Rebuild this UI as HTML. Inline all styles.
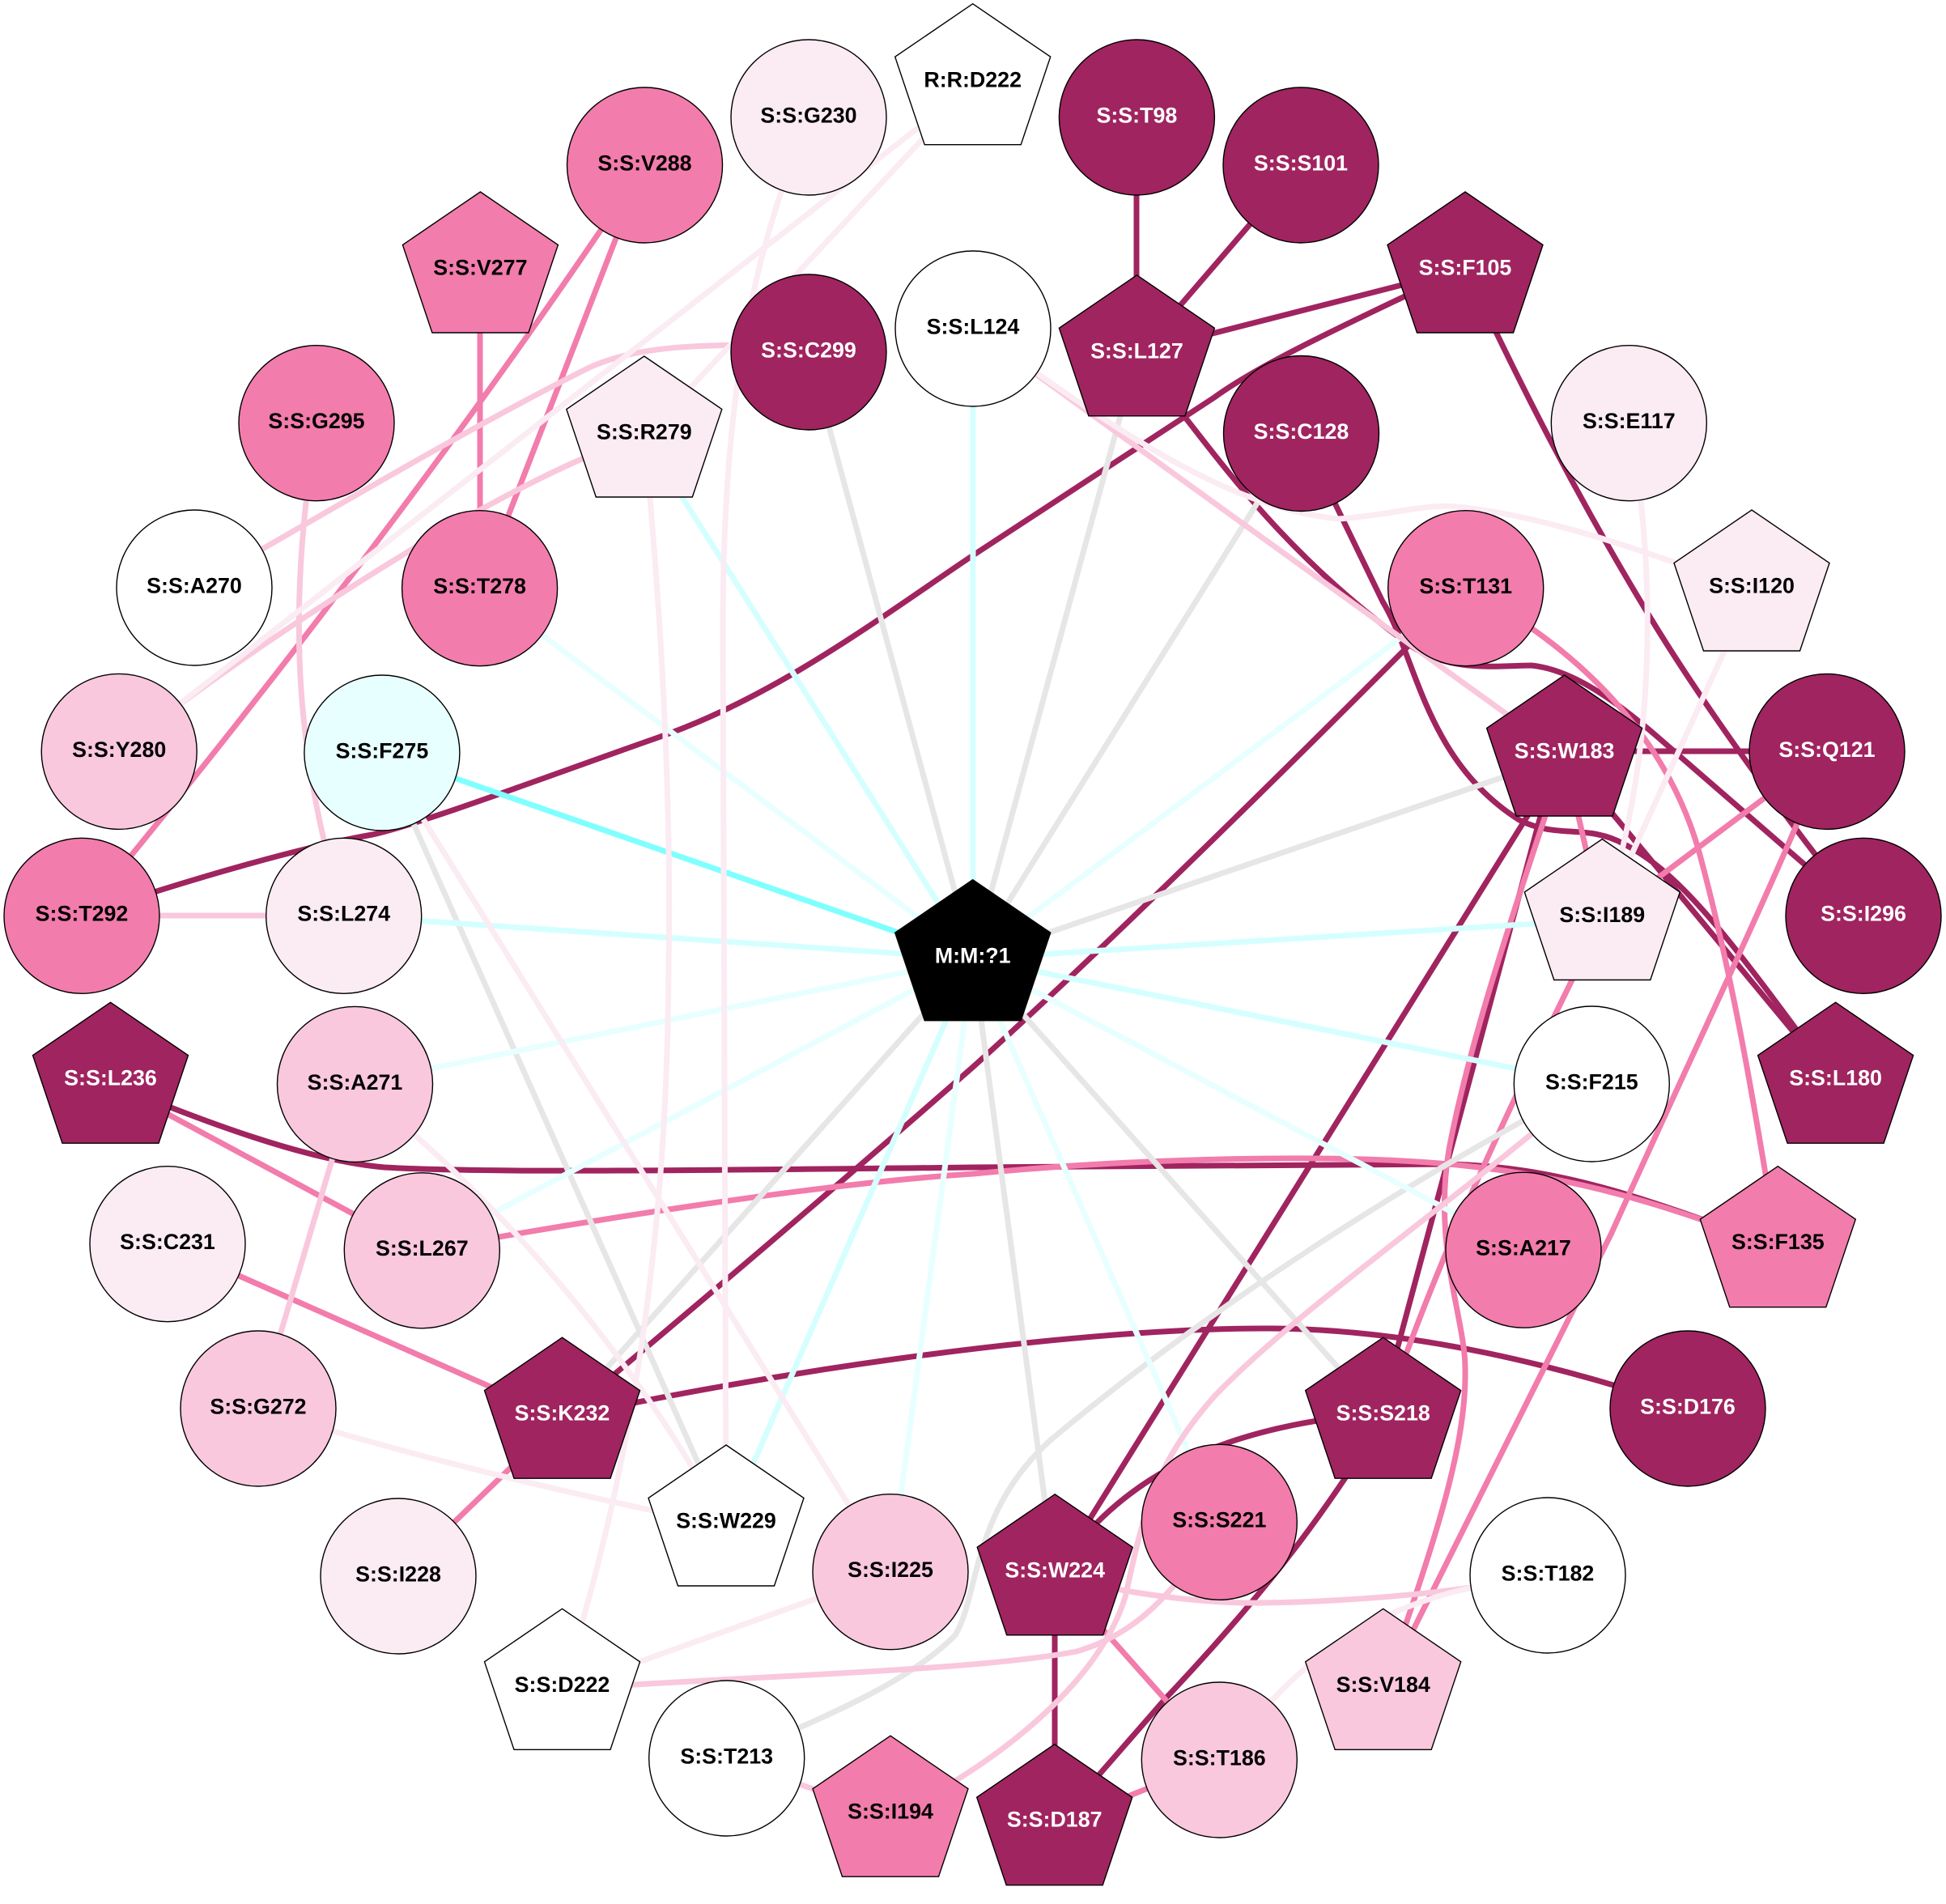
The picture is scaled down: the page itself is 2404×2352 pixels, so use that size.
<!DOCTYPE html>
<html><head><meta charset="utf-8"><style>
html,body{margin:0;padding:0;background:#fff}
svg{display:block}
text{font-family:"Liberation Sans",sans-serif;font-weight:bold;font-size:26.8px;text-anchor:middle}
.e path{fill:none;stroke-width:7}
.d *{stroke:#a0245f}.p *{stroke:#f27cac}.l *{stroke:#f9c8dd}.f *{stroke:#fbebf3}
.g *{stroke:#e6e6e6}.c0 *{stroke:#80ffff}.c1 *{stroke:#d5ffff}.c2 *{stroke:#e8ffff}
.n circle,.n use{stroke:#000;stroke-width:1.4}
.w{fill:#fff}
</style></head><body>
<svg width="2404" height="2352" viewBox="0 0 2404 2352" xmlns="http://www.w3.org/2000/svg">
<defs><polygon id="pg" points="0,0 96,65.5 59.5,174 -59.5,174 -96,65.5"/></defs>
<rect width="2404" height="2352" fill="#fff"/>
<g class="e d">
<path d="M1404,145V440"/>
<path d="M1607,204L1404,440"/>
<path d="M1404,436L1810,332"/>
<path d="M1810,330C1720,375 1570,440 1500,491L1202,686C1090,761 960,860 813,911C690,954 520,1018 460,1031C380,1045 250,1081 101,1131"/>
<path d="M1404,450L1466,518C1520,587 1600,695 1739,795C1790,832 1850,822 1892,822C1940,827 1990,861 2045,908L2302,1131"/>
<path d="M1607,535L1708,743C1750,812 1760,939 1877,1013C1925,1037 1960,1017 2007,1043C2080,1081 2140,1164 2268,1338"/>
<path d="M1933,934L2268,1338"/>
<path d="M1933,928H2257"/>
<path d="M1810,330C1880,480 1950,617 2040,765C2110,880 2220,1030 2302,1131"/>
<path d="M1810,727C1600,940 1350,1185 1202,1318C1080,1425 900,1580 694,1752"/>
<path d="M1933,934L1303,1946"/>
<path d="M1923,934L1703,1752"/>
<path d="M136,1338C250,1385 380,1434 475,1442C560,1447 700,1448 1202,1442L1792,1438C1920,1442 2020,1474 2196,1541"/>
<path d="M694,1752C900,1705 1300,1640 1570,1641C1750,1642 1930,1688 2085,1740"/>
<path d="M1709,1745C1560,1758 1400,1795 1303,1946"/>
<path d="M1709,1752C1640,1865 1570,1960 1440,2098L1303,2255"/>
<path d="M1303,1946V2255"/>
</g>
<g class="e p">
<path d="M1933,934C1900,1040 1820,1260 1790,1420C1770,1540 1810,1630 1810,1690C1812,1790 1770,1910 1709,2087"/>
<path d="M1811,727C1950,800 2060,910 2100,1056C2140,1205 2165,1350 2196,1541"/>
<path d="M2257,928C2190,1097 2100,1280 1990,1525L1709,2087"/>
<path d="M2257,928L1979,1136"/>
<path d="M1933,934L1979,1136"/>
<path d="M521,1545C700,1512 1000,1463 1202,1450C1400,1431 1650,1424 1800,1439C1950,1454 2060,1489 2196,1541"/>
<path d="M136,1338L521,1545"/>
<path d="M207,1537L694,1752"/>
<path d="M694,1752L492,1947"/>
<path d="M1303,1946L1506,2174"/>
<path d="M1303,2255L1506,2174"/>
<path d="M593,337V727"/>
<path d="M796,204L593,727"/>
<path d="M796,204C640,440 400,770 101,1131"/>
<path d="M1979,1136C1880,1335 1780,1540 1709,1752"/>
</g>
<g class="e g">
<path d="M999,435L1202,1184"/>
<path d="M1404,440L1202,1184"/>
<path d="M1607,535L1202,1184"/>
<path d="M1933,934L1202,1184"/>
<path d="M694,1752L1202,1184"/>
<path d="M1303,1946L1202,1184"/>
<path d="M1709,1752L1202,1184"/>
<path d="M472,930L897,1885"/>
<path d="M1966,1339C1750,1452 1500,1610 1300,1777C1200,1865 1210,1970 1180,2020C1130,2070 1050,2110 898,2172"/>
</g>
<g class="e c2">
<path d="M593,727L1202,1184"/>
<path d="M1811,727L1202,1184"/>
<path d="M438,1339L1202,1184"/>
<path d="M521,1545L1202,1184"/>
<path d="M1882,1544L1202,1184"/>
<path d="M1100,1942L1202,1184"/>
<path d="M1506,1880L1202,1184"/>
</g>
<g class="e c1">
<path d="M1202,406V1184"/>
<path d="M796,540L1202,1184"/>
<path d="M425,1131L1202,1184"/>
<path d="M1979,1136L1202,1184"/>
<path d="M1966,1339L1202,1184"/>
<path d="M897,1885L1202,1184"/>
</g>
<g class="e c0"><path d="M472,930L1202,1184"/></g>
<g class="e l">
<path d="M101,1131H425"/>
<path d="M391,523C360,724 355,900 425,1131"/>
<path d="M240,726C350,665 560,538 728,454C800,421 900,427 999,426"/>
<path d="M147,928L222,870C340,783 560,636 721,566L796,538"/>
<path d="M1202,406L1933,934"/>
<path d="M438,1339L319,1740"/>
<path d="M694,2087C900,2071 1200,2065 1330,2040C1400,2020 1450,1972 1506,1880"/>
<path d="M1303,1946C1400,1972 1500,1981 1560,1980C1680,1978 1800,1967 1912,1946"/>
<path d="M1966,1339C1800,1482 1600,1620 1500,1725C1420,1815 1410,1885 1390,1973C1360,2070 1250,2170 1100,2244"/>
<path d="M898,2172L1100,2244"/>
</g>
<g class="e f">
<path d="M1202,105L147,928"/>
<path d="M1202,105L796,540"/>
<path d="M999,145C940,293 893,450 893,780L897,1885"/>
<path d="M796,540C815,733 830,980 826,1190C825,1490 790,1790 694,2087"/>
<path d="M2012,523C2045,685 2050,930 1979,1136"/>
<path d="M2164,730L1979,1136"/>
<path d="M1202,406C1350,508 1500,626 1654,641C1720,636 1760,622 1800,626C1900,636 2020,675 2164,730"/>
<path d="M438,1339C620,1485 780,1670 897,1885"/>
<path d="M472,930L1100,1942"/>
<path d="M319,1740C500,1797 700,1845 897,1885"/>
<path d="M1100,1942L694,2087"/>
<path d="M1506,2174C1590,2080 1660,1972 1912,1946"/>
</g>
<g class="n">
<circle cx="999" cy="145" r="96" fill="#fbebf3"/><text x="999" y="151.4">S:S:G230</text>
<circle cx="796.5" cy="204" r="96" fill="#f27cac"/><text x="796.5" y="210.4">S:S:V288</text>
<circle cx="999" cy="435" r="96" fill="#a0245f"/><text class="w" x="999" y="441.4">S:S:C299</text>
<circle cx="1202" cy="406" r="96" fill="#fff"/><text x="1202" y="412.4">S:S:L124</text>
<circle cx="1404.4" cy="145" r="96" fill="#a0245f"/><text class="w" x="1404.4" y="151.4">S:S:T98</text>
<circle cx="1607" cy="204" r="96" fill="#a0245f"/><text class="w" x="1607" y="210.4">S:S:S101</text>
<circle cx="1607.5" cy="535.5" r="96" fill="#a0245f"/><text class="w" x="1607.5" y="541.9">S:S:C128</text>
<circle cx="2012.3" cy="522.7" r="96" fill="#fbebf3"/><text x="2012.3" y="529">S:S:E117</text>
<circle cx="1810.7" cy="726.7" r="96" fill="#f27cac"/><text x="1810.7" y="733">S:S:T131</text>
<circle cx="240" cy="726" r="96" fill="#fff"/><text x="240" y="732.4">S:S:A270</text>
<circle cx="391" cy="522.7" r="96" fill="#f27cac"/><text x="391" y="529">S:S:G295</text>
<circle cx="592.6" cy="726.7" r="96" fill="#f27cac"/><text x="592.6" y="733">S:S:T278</text>
<circle cx="147.2" cy="928.4" r="96" fill="#f9c8dd"/><text x="147.2" y="934.8">S:S:Y280</text>
<circle cx="471.9" cy="930" r="96" fill="#e8ffff"/><text x="471.9" y="936.4">S:S:F275</text>
<circle cx="2257" cy="928.4" r="96" fill="#a0245f"/><text class="w" x="2257" y="934.8">S:S:Q121</text>
<circle cx="101" cy="1131.3" r="96" fill="#f27cac"/><text x="101" y="1137.7">S:S:T292</text>
<circle cx="424.7" cy="1131.3" r="96" fill="#fbebf3"/><text x="424.7" y="1137.7">S:S:L274</text>
<circle cx="2302" cy="1131.3" r="96" fill="#a0245f"/><text class="w" x="2302" y="1137.7">S:S:I296</text>
<circle cx="438.5" cy="1339.4" r="96" fill="#f9c8dd"/><text x="438.5" y="1345.8">S:S:A271</text>
<circle cx="1966.3" cy="1339" r="96" fill="#fff"/><text x="1966.3" y="1345.4">S:S:F215</text>
<circle cx="207" cy="1536.7" r="96" fill="#fbebf3"/><text x="207" y="1543">S:S:C231</text>
<circle cx="521.3" cy="1544.8" r="96" fill="#f9c8dd"/><text x="521.3" y="1551.2">S:S:L267</text>
<circle cx="1882" cy="1544.2" r="96" fill="#f27cac"/><text x="1882" y="1550.6">S:S:A217</text>
<circle cx="319" cy="1740" r="96" fill="#f9c8dd"/><text x="319" y="1746.4">S:S:G272</text>
<circle cx="2085" cy="1740" r="96" fill="#a0245f"/><text class="w" x="2085" y="1746.4">S:S:D176</text>
<circle cx="492" cy="1947" r="96" fill="#fbebf3"/><text x="492" y="1953.4">S:S:I228</text>
<circle cx="1912" cy="1946" r="96" fill="#fff"/><text x="1912" y="1952.4">S:S:T182</text>
<circle cx="1100" cy="1941.7" r="96" fill="#f9c8dd"/><text x="1100" y="1948">S:S:I225</text>
<circle cx="1506.3" cy="1880.3" r="96" fill="#f27cac"/><text x="1506.3" y="1886.7">S:S:S221</text>
<circle cx="897.7" cy="2172" r="96" fill="#fff"/><text x="897.7" y="2178.4">S:S:T213</text>
<circle cx="1506.3" cy="2174" r="96" fill="#f9c8dd"/><text x="1506.3" y="2180.4">S:S:T186</text>
<use href="#pg" x="593.4" y="237" fill="#f27cac"/><text x="593.4" y="339.5">S:S:V277</text>
<use href="#pg" x="795.8" y="440" fill="#fbebf3"/><text x="795.8" y="542.5">S:S:R279</text>
<use href="#pg" x="1810" y="237" fill="#a0245f"/><text class="w" x="1810" y="339.5">S:S:F105</text>
<use href="#pg" x="1404.4" y="339.8" fill="#a0245f"/><text class="w" x="1404.4" y="442.3">S:S:L127</text>
<use href="#pg" x="1201.7" y="4.7" fill="#fff"/><text x="1201.7" y="107.5">R:R:D222</text>
<use href="#pg" x="2164" y="630" fill="#fbebf3"/><text x="2164" y="732.5">S:S:I120</text>
<use href="#pg" x="1932.6" y="834" fill="#a0245f"/><text class="w" x="1932.6" y="936.5">S:S:W183</text>
<use href="#pg" x="1979.3" y="1036.5" fill="#fbebf3"/><text x="1979.3" y="1139">S:S:I189</text>
<use href="#pg" x="1201.7" y="1086.7" fill="#000"/><text class="w" x="1201.7" y="1189.3">M:M:?1</text>
<use href="#pg" x="136.5" y="1238.2" fill="#a0245f"/><text class="w" x="136.5" y="1340.7">S:S:L236</text>
<use href="#pg" x="2267.6" y="1238.2" fill="#a0245f"/><text class="w" x="2267.6" y="1340.7">S:S:L180</text>
<use href="#pg" x="2196.3" y="1440.7" fill="#f27cac"/><text x="2196.3" y="1543.2">S:S:F135</text>
<use href="#pg" x="694.5" y="1652.2" fill="#a0245f"/><text class="w" x="694.5" y="1754.7">S:S:K232</text>
<use href="#pg" x="1708.7" y="1652.2" fill="#a0245f"/><text class="w" x="1708.7" y="1754.7">S:S:S218</text>
<use href="#pg" x="897" y="1785" fill="#fff"/><text x="897" y="1887.5">S:S:W229</text>
<use href="#pg" x="1303.2" y="1845.8" fill="#a0245f"/><text class="w" x="1303.2" y="1948.3">S:S:W224</text>
<use href="#pg" x="694.5" y="1987.3" fill="#fff"/><text x="694.5" y="2089.8">S:S:D222</text>
<use href="#pg" x="1708.7" y="1987.3" fill="#f9c8dd"/><text x="1708.7" y="2089.8">S:S:V184</text>
<use href="#pg" x="1100" y="2144.2" fill="#f27cac"/><text x="1100" y="2246.7">S:S:I194</text>
<use href="#pg" x="1302.7" y="2154.7" fill="#a0245f"/><text class="w" x="1302.7" y="2256.5">S:S:D187</text>
</g>
</svg>
</body></html>
